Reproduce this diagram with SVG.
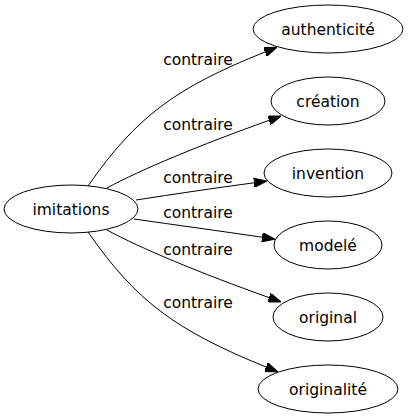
<svg xmlns="http://www.w3.org/2000/svg" width="409" height="419" viewBox="0 0 409 419">
<style>
.node ellipse{fill:none;stroke:#000;stroke-width:1}
.node text{font-family:"DejaVu Sans",sans-serif;font-size:15.5px;fill:#000;text-anchor:middle}
.edge path{fill:none;stroke:#000;stroke-width:1}
.edge text{font-family:"DejaVu Sans",sans-serif;font-size:15.5px;fill:#000;text-anchor:middle}
</style>
<defs>
<marker id="arrow" viewBox="0 0 13 9.4" refX="0" refY="4.7" markerWidth="13" markerHeight="9.4" markerUnits="userSpaceOnUse" orient="auto">
<path d="M0,0 L13,4.7 L0,9.4 z" fill="#000" stroke="#000" stroke-width="1"/>
</marker>
</defs>
<rect width="409" height="419" fill="#fff"/>
<g id="edges" class="edge">
<path d="M88,186 C136,117 175,88 265,52" marker-end="url(#arrow)"/>
<text x="198" y="65">contraire</text>
<path d="M107,188 C140,170 200,145 269,120.4" marker-end="url(#arrow)"/>
<text x="198" y="130">contraire</text>
<path d="M136,200 C175,194 215,188 254,182.8" marker-end="url(#arrow)"/>
<text x="198" y="183">contraire</text>
<path d="M134,219 C176,225 220,231 262,237.2" marker-end="url(#arrow)"/>
<text x="198" y="218">contraire</text>
<path d="M107,230 C140,248 200,273 269,297.6" marker-end="url(#arrow)"/>
<text x="198" y="255">contraire</text>
<path d="M88,232 C136,301 175,330 266,367" marker-end="url(#arrow)"/>
<text x="198" y="308">contraire</text>
</g>
<g id="imitations" class="node">
<ellipse cx="71" cy="209" rx="67" ry="24"/>
<text x="71" y="214.5">imitations</text>
</g>
<g id="authenticite" class="node">
<ellipse cx="328" cy="29" rx="75" ry="24"/>
<text x="328" y="34.5">authenticité</text>
</g>
<g id="creation" class="node">
<ellipse cx="328" cy="101" rx="57" ry="24"/>
<text x="328" y="106.5">création</text>
</g>
<g id="invention" class="node">
<ellipse cx="328" cy="173" rx="64" ry="24"/>
<text x="328" y="178.5">invention</text>
</g>
<g id="modele" class="node">
<ellipse cx="328" cy="245" rx="54" ry="24"/>
<text x="328" y="250.5">modelé</text>
</g>
<g id="original" class="node">
<ellipse cx="328" cy="317" rx="55" ry="24"/>
<text x="328" y="322.5">original</text>
</g>
<g id="originalite" class="node">
<ellipse cx="328" cy="389" rx="70" ry="24"/>
<text x="328" y="394.5">originalité</text>
</g>
</svg>
